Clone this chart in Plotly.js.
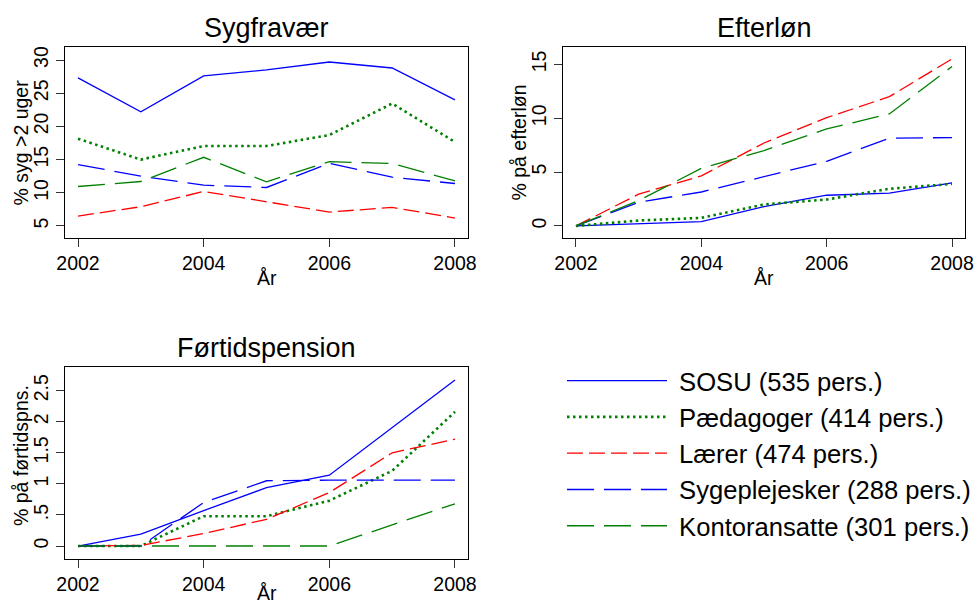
<!DOCTYPE html>
<html>
<head>
<meta charset="utf-8">
<script src="https://cdn.plot.ly/plotly-3.0.1.min.js"></script>
<style>html,body{margin:0;padding:0;background:#fff;}#chart{width:977px;height:605px;}</style>
</head>
<body>
<div id="chart"></div>
<script>
var years = [2002, 2003, 2004, 2005, 2006, 2007, 2008];
var groupNames = ["SOSU (535 pers.)", "Pædagoger (414 pers.)", "Lærer (474 pers.)", "Sygeplejesker (288 pers.)", "Kontoransatte (301 pers.)"];
var panelTitles = ["Sygfravær", "Efterløn", "Førtidspension"];
var yTitles = ["% syg >2 uger", "% på efterløn", "% på førtidspns."];
var xTitle = "År";
var xTickVals = [2002, 2004, 2006, 2008];
var y1TickVals = [5, 10, 15, 20, 25, 30];
var y2TickVals = [0, 5, 10, 15];
var y3TickVals = [0, 0.5, 1, 1.5, 2, 2.5];
var y3TickText = ["0", ".5", "1", "1.5", "2", "2.5"];

// Sygfravær
var sygSOSU = [27.3, 22.2, 27.6, 28.5, 29.7, 28.8, 24.0];
var sygPaed = [18.15, 15.0, 17.05, 17.05, 18.7, 23.45, 17.65];
var sygLaerer = [6.5, 7.9, 10.2, 8.6, 7.1, 7.8, 6.2];
var sygSygpl = [14.25, 12.5, 11.15, 10.8, 14.45, 12.35, 11.4];
var sygKontor = [10.95, 11.7, 15.35, 11.65, 14.7, 14.4, 11.8];

// Efterløn
var eftSOSU = [0, 0.2, 0.4, 1.8, 2.85, 3.05, 4.0];
var eftPaed = [0, 0.5, 0.75, 2.0, 2.45, 3.45, 3.9];
var eftLaerer = [0, 2.95, 4.65, 7.7, 10.05, 12.0, 15.5];
var eftSygpl = [0, 2.2, 3.15, 4.55, 6.0, 8.15, 8.2];
var eftKontor = [0, 2.35, 5.35, 7.0, 9.0, 10.4, 14.8];

// Førtidspension
var ftpSOSU = [0, 0.19, 0.57, 0.94, 1.14, 1.9, 2.67];
var ftpPaed = [0, 0, 0.48, 0.48, 0.73, 1.21, 2.16];
var ftpLaerer = [0, 0.01, 0.2, 0.43, 0.86, 1.5, 1.72];
var ftpSygpl = [0, 0, 0.7, 1.05, 1.06, 1.06, 1.06];
var ftpKontor = [0, 0, 0, 0, 0, 0.34, 0.68];

var panels = [
  [sygSOSU, sygPaed, sygLaerer, sygSygpl, sygKontor],
  [eftSOSU, eftPaed, eftLaerer, eftSygpl, eftKontor],
  [ftpSOSU, ftpPaed, ftpLaerer, ftpSygpl, ftpKontor]
];

var styles = [
  {color: "#0000ff", width: 1.3, dash: "solid"},
  {color: "#008000", width: 2.6, dash: "2.5px,3.5px"},
  {color: "#ff0000", width: 1.3, dash: "16px,6px"},
  {color: "#0000ff", width: 1.3, dash: "27px,10px"},
  {color: "#008000", width: 1.3, dash: "27px,10px"}
];

var traces = [];
for (var p = 0; p < 3; p++) {
  for (var g = 0; g < 5; g++) {
    traces.push({
      type: "scatter", mode: "lines",
      x: years, y: panels[p][g],
      name: "\u00a0" + groupNames[g],
      legendgroup: "g" + g,
      showlegend: p === 0,
      line: styles[g],
      xaxis: p === 0 ? "x" : "x" + (p + 1),
      yaxis: p === 0 ? "y" : "y" + (p + 1),
      hoverinfo: "skip"
    });
  }
}

var W = 977, H = 605;
function px(x) { return x / W; }
function py(y) { return (H - y) / H; }

var font = "Liberation Sans, Arial, sans-serif";
var tickFont = {family: font, size: 19.5, color: "#000"};

function xax(d0, d1, anchor) {
  return {
    domain: [px(d0), px(d1)], anchor: anchor,
    range: [2001.793, 2008.207],
    tickvals: xTickVals, ticks: "outside", ticklen: 8, tickwidth: 1, tickcolor: "#333",
    showline: true, mirror: true, linecolor: "#000", linewidth: 1,
    showgrid: false, zeroline: false, tickfont: tickFont
  };
}
function yax(t0, t1, anchor, range, vals, text) {
  var a = {
    domain: [py(t1), py(t0)], anchor: anchor, range: range,
    tickvals: vals, ticks: "outside", ticklen: 8, tickwidth: 1, tickcolor: "#333",
    tickangle: -90,
    showline: true, mirror: true, linecolor: "#000", linewidth: 1,
    showgrid: false, zeroline: false, tickfont: tickFont
  };
  if (text) a.ticktext = text;
  return a;
}

var ann = [];
function addText(text, x, y, size, angle) {
  ann.push({text: text, x: px(x), y: py(y), xref: "paper", yref: "paper",
    xanchor: "center", yanchor: "middle", showarrow: false, textangle: angle || 0,
    font: {family: font, size: size, color: "#000"}});
}
addText(panelTitles[0], 266.5, 28, 27);
addText(panelTitles[1], 764, 28, 27);
addText(panelTitles[2], 266.5, 348, 27);
addText(xTitle, 266.5, 278, 19.5);
addText(xTitle, 764, 278, 19.5);
addText(xTitle, 266.5, 593, 19.5);
addText(yTitles[0], 20, 142.5, 19.5, -90);
addText(yTitles[1], 518, 142.5, 19.5, -90);
addText(yTitles[2], 21, 456, 19.5, -90);

var layout = {
  width: W, height: H,
  margin: {l: 0, r: 0, t: 0, b: 0, autoexpand: false},
  paper_bgcolor: "#fff", plot_bgcolor: "#fff",
  showlegend: true,
  legend: {
    x: px(562), y: py(357.5), xanchor: "left", yanchor: "top",
    font: {family: font, size: 25.6, color: "#000"},
    itemwidth: 100, bgcolor: "rgba(0,0,0,0)", borderwidth: 0,
    tracegroupgap: 0
  },
  xaxis: xax(65, 468, "y"),
  yaxis: yax(47, 238, "x", [3.19, 31.96], y1TickVals),
  xaxis2: xax(563, 965, "y2"),
  yaxis2: yax(47, 238, "x2", [-1.12, 16.61], y2TickVals),
  xaxis3: xax(65, 468, "y3"),
  yaxis3: yax(367.3, 558.7, "x3", [-0.204, 2.876], y3TickVals, y3TickText),
  annotations: ann
};

Plotly.newPlot("chart", traces, layout, {displayModeBar: false, staticPlot: true});
</script>
</body>
</html>
